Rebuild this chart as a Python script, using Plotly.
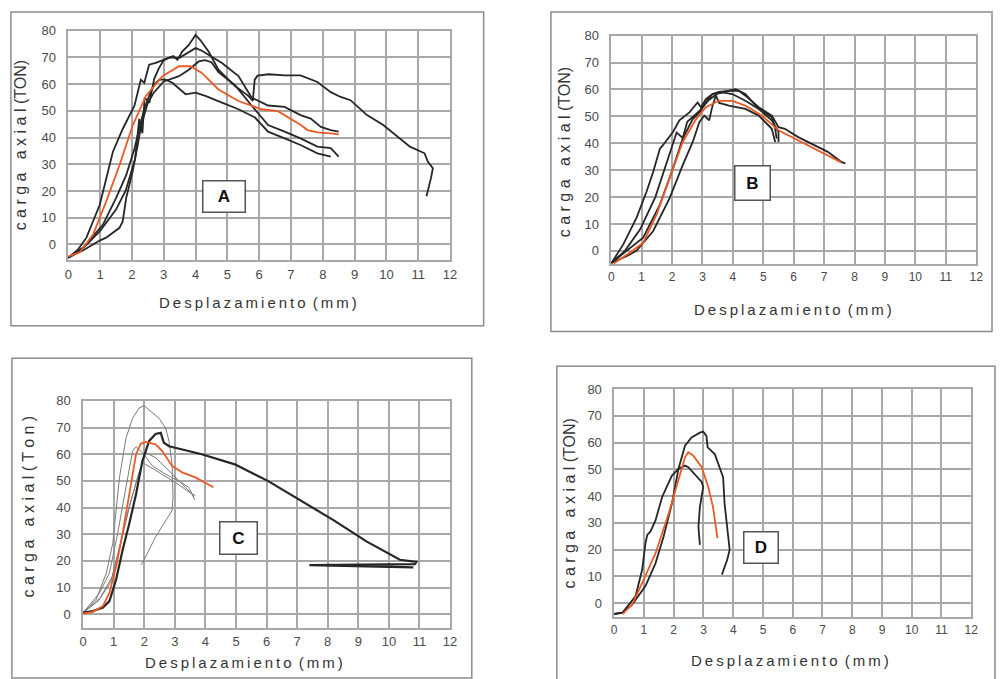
import plotly.graph_objects as go

# ---------------- data ----------------
# Panel A
a1_x = [0, 0.3, 0.57, 0.99, 1.4, 1.71, 2.08, 2.28, 2.39, 2.54, 2.75, 2.96, 3.17, 3.3, 3.43, 3.58, 3.79, 4.0, 4.15, 4.41, 4.72, 5.24, 5.66, 5.8, 5.86, 5.95, 6.3, 6.8, 7.3, 7.6, 7.83, 8.25, 8.56, 8.87, 9.39, 9.9, 10.4, 10.74, 11.2, 11.3, 11.46, 11.4, 11.26]
a1_y = [-5, -2, 2.5, 14.8, 34.6, 43.2, 51.9, 61.7, 60.5, 67.3, 68, 69, 69.7, 70.5, 69.1, 72.2, 74.7, 78.4, 76.5, 72.2, 65.4, 59.3, 55.6, 53.7, 61.7, 63.2, 63.7, 63.3, 63.3, 62, 60.8, 57, 55.2, 54, 48.4, 44.7, 39.7, 36.6, 34.1, 31, 28.5, 24.8, 18]
a2_x = [0, 0.5, 1.0, 1.5, 1.8, 2.1, 2.23, 2.33, 2.4, 2.55, 2.7, 2.85, 3.0, 3.2, 3.48, 3.7, 4.0, 4.2, 4.41, 4.83, 5.35, 5.76, 6.28, 6.8, 7.3, 7.62, 7.94, 8.25, 8.5]
a2_y = [-5, -1, 5, 13, 20, 32, 47, 41.6, 55, 53, 62, 66, 69, 70, 69.8, 71.5, 73.5, 72.5, 71, 67.9, 63, 55, 52, 51.5, 48.4, 47.1, 44, 42.8, 42.2]
a3_x = [0, 0.5, 1.0, 1.19, 1.61, 1.71, 1.82, 2.02, 2.18, 2.3, 2.5, 2.7, 3.0, 3.48, 3.79, 4.1, 4.3, 4.5, 4.72, 5.24, 5.76, 6.28, 6.8, 7.3, 7.83, 8.25, 8.5]
a3_y = [-5, -2, 1.5, 2.5, 6.2, 8.6, 17.3, 27.2, 37, 45, 53, 57, 61, 63, 65.4, 68.5, 69, 68.2, 64.5, 59.6, 52, 44.7, 42.2, 39.7, 36.6, 36, 32.9]
a4_x = [0, 0.47, 1.09, 1.5, 1.82, 2.08, 2.28, 2.39, 2.54, 2.7, 2.86, 3.06, 3.27, 3.69, 4.0, 4.31, 4.83, 5.35, 5.87, 6.28, 6.8, 7.3, 7.83, 8.25]
a4_y = [-5, -1.2, 7.4, 17.3, 25.9, 35.8, 45.7, 50.6, 55.6, 59.9, 61.7, 61.7, 60.5, 56.2, 56.8, 55.6, 53.1, 50.6, 47.5, 42.2, 39.7, 37.2, 34.1, 32.9]
a_avg_x = [0, 0.16, 0.36, 0.78, 1.19, 1.61, 2.02, 2.44, 2.96, 3.48, 3.84, 4.2, 4.72, 5.35, 6.07, 6.59, 7.0, 7.31, 7.52, 7.83, 8.25, 8.5]
a_avg_y = [-4.5, -3.7, -3, 3.7, 16, 29.6, 44.4, 55.6, 63, 66.7, 66.7, 64.2, 58, 53.7, 50.6, 49.9, 47.1, 44.7, 42.8, 41.9, 41.6, 41.2]

# Panel B
b1_x = [0.02, 0.4, 0.83, 1.16, 1.38, 1.6, 1.7, 2.03, 2.24, 2.57, 2.84, 2.95, 3.11, 3.33, 3.54, 3.87, 4.2, 4.41, 4.85, 5.28, 5.5, 5.71, 6.15, 6.58, 7.12, 7.56, 7.7]
b1_y = [-4.3, 2.5, 12.3, 22, 29.4, 38, 39.3, 44.2, 48.5, 51.5, 55.2, 53.4, 56.4, 58.3, 59.1, 59.5, 59.5, 57.7, 53.4, 50.3, 46, 45.4, 42.3, 39.9, 36.8, 33.1, 32.5]
b2_x = [0, 0.45, 0.95, 1.45, 1.8, 2.03, 2.15, 2.35, 2.5, 2.7, 2.9, 3.2, 3.5, 3.98, 4.09, 4.41, 4.85, 5.28, 5.39, 5.44]
b2_y = [-4.5, 0, 8, 20, 32, 40, 44, 42, 48, 50, 52, 56, 58.5, 59.9, 60.1, 58.3, 52.8, 49.7, 45.4, 41.7]
b3_x = [0, 0.5, 0.83, 1.38, 1.92, 2.35, 2.68, 2.9, 3.06, 3.22, 3.33, 3.44, 3.55, 3.87, 4.41, 4.85, 5.28, 5.39]
b3_y = [-4.5, -2, 0, 7.4, 19.6, 31.9, 40.5, 47.9, 50.3, 48.5, 54, 57.7, 55, 54, 52.8, 50.3, 45.4, 40.5]
b4_x = [0, 0.51, 1.05, 1.6, 2.03, 2.35, 2.68, 2.9, 3.11, 3.33, 3.65, 3.98, 4.41, 4.85, 5.28, 5.5, 5.5]
b4_y = [-4.5, 0, 4.9, 17.2, 30.7, 41.7, 49, 51.5, 55.2, 58.3, 58.9, 58.3, 55.8, 52.8, 48.5, 44.2, 40.5]
b_avg_x = [0.08, 0.62, 1.05, 1.49, 1.92, 2.35, 2.79, 3.11, 3.54, 3.98, 4.41, 4.95, 5.5, 6.04, 6.58, 7.12, 7.56]
b_avg_y = [-4.7, -0.6, 3, 13.5, 27, 40.5, 49, 53.4, 55.8, 55.8, 54, 50.3, 44.8, 41.7, 38.7, 35.6, 32.9]

# Panel C
c1_x = [0, 0.32, 0.65, 0.86, 1.08, 1.29, 1.51, 1.73, 1.94, 2.16, 2.37, 2.54, 2.64, 2.81, 3.88, 4.96, 6.04, 7.12, 8.2, 9.28, 10.36, 10.9, 10.85, 7.4, 10.8]
c1_y = [0.6, 1.2, 2.5, 4.9, 13, 24, 34, 45, 57.5, 65, 67.6, 68, 64.3, 63, 60, 56.2, 50, 42.6, 35.2, 27.2, 20.4, 19.6, 18.8, 18.4, 17.6]
c2_x = [0, 0.43, 0.76, 0.97, 1.19, 1.4, 1.62, 1.83, 1.99, 2.16, 2.48, 2.7, 2.81, 2.91, 2.94, 2.91, 2.37, 1.94, 1.89]
c2_y = [0.6, 5.6, 15.5, 26.6, 51.3, 66, 73.5, 77.3, 78.2, 76.6, 73.5, 69.8, 64.9, 56.2, 43.9, 38.9, 29, 19.2, 18.5]
c3_x = [0, 0.54, 0.86, 1.13, 1.4, 1.62, 1.73, 1.94, 2.27, 2.7, 3.13, 3.45, 3.62]
c3_y = [0.6, 8, 15.5, 30.3, 47.6, 61.2, 62.8, 60.6, 55.6, 52.5, 50, 47.6, 43.9]
c4_x = [0, 0.5, 0.9, 1.2, 1.5, 1.8, 2.05, 2.37, 2.81, 3.24, 3.56, 3.67]
c4_y = [0.6, 5, 12, 25, 40, 52, 60.6, 58.7, 53.8, 48.8, 45.1, 44.5]
c5_x = [0, 0.55, 0.95, 1.25, 1.55, 1.8, 1.94, 2.48, 3.02, 3.56, 3.65]
c5_y = [0.6, 6, 14, 28, 42, 52, 56.9, 53.2, 49.4, 45.1, 42.9]
c_avg_x = [0, 0.32, 0.65, 0.86, 1.08, 1.29, 1.51, 1.73, 1.89, 2.05, 2.37, 2.59, 2.91, 3.24, 3.67, 3.99, 4.26]
c_avg_y = [0.2, 0.9, 3.1, 8, 17.9, 30.3, 45, 60, 64, 64.6, 63.7, 61.2, 55.6, 53.2, 51.3, 49.4, 47.6]

# Panel D
d1_x = [-0.06, 0.28, 0.61, 1.05, 1.39, 1.66, 1.94, 2.16, 2.38, 2.6, 2.88, 2.99, 3.1, 3.14, 3.38, 3.66, 3.71, 3.88, 3.8, 3.62]
d1_y = [-4.1, -3.5, -0.4, 6.4, 15, 24.9, 37.2, 50.2, 58.8, 61.9, 63.7, 64.1, 62.5, 58.2, 55.7, 47.1, 37.2, 20, 16.3, 10.7]
d2_x = [-0.06, 0.28, 0.72, 0.94, 1.05, 1.11, 1.22, 1.39, 1.61, 1.94, 2.16, 2.38, 2.49, 2.71, 2.94, 2.99, 2.88, 2.83, 2.88]
d2_y = [-4.1, -3.5, 2.7, 12.6, 22.4, 25.5, 26.8, 31, 39.7, 47.7, 50.2, 51.4, 50.8, 48.3, 45.3, 43.4, 36, 28.6, 21.8]
d_avg_x = [0.28, 0.61, 0.94, 1.39, 1.83, 2.16, 2.38, 2.49, 2.66, 2.94, 3.16, 3.32, 3.43, 3.47]
d_avg_y = [-4.1, -0.4, 7.6, 18.7, 33.5, 45.9, 54.5, 56.4, 55.1, 50.8, 43.4, 36, 27.4, 24.3]

x_ticks = list(range(0, 13))
y_ticks = list(range(0, 81, 10))

# ---------------- figure ----------------
BLACK = "#262626"
ORANGE = "#ec5a24"
GRAY = "#7a7a7a"
GRID = "#a8a8a8"

fig = go.Figure()

def add(x, y, ax, color=BLACK, width=1.8):
    fig.add_trace(go.Scatter(x=x, y=y, mode="lines", xaxis="x" + ax, yaxis="y" + ax,
                             line=dict(color=color, width=width), showlegend=False,
                             hoverinfo="skip"))

# A
for xs, ys in [(a1_x, a1_y), (a2_x, a2_y), (a3_x, a3_y), (a4_x, a4_y)]:
    add(xs, ys, "")
add(a_avg_x, a_avg_y, "", ORANGE)
# B
for xs, ys in [(b1_x, b1_y), (b2_x, b2_y), (b3_x, b3_y), (b4_x, b4_y)]:
    add(xs, ys, "2")
add(b_avg_x, b_avg_y, "2", ORANGE)
# C
for xs, ys in [(c2_x, c2_y), (c3_x, c3_y), (c4_x, c4_y), (c5_x, c5_y)]:
    add(xs, ys, "3", GRAY, 1.0)
add(c1_x, c1_y, "3", BLACK, 2.2)
add(c_avg_x, c_avg_y, "3", ORANGE)
# D
for xs, ys in [(d1_x, d1_y), (d2_x, d2_y)]:
    add(xs, ys, "4")
add(d_avg_x, d_avg_y, "4", ORANGE)

def W(px):
    return px / 1000.0

def H(py):
    return 1 - py / 679.0

TICKFONT = "Arial, Liberation Sans"

def xaxis(dom, anchor, fs):
    return dict(domain=dom, anchor=anchor, range=[0, 12], tickvals=x_ticks,
                showgrid=True, gridcolor=GRID, gridwidth=1.5, zeroline=False,
                showline=True, linecolor=GRID, linewidth=1.5, mirror=True,
                ticks="", tickfont=dict(family=TICKFONT, size=fs, color="#4a4a4a"),
                ticklabelstandoff=1)

def yaxis(dom, anchor, lo):
    return dict(domain=dom, anchor=anchor, range=[lo, 80], tickvals=y_ticks,
                showgrid=True, gridcolor=GRID, gridwidth=1.5, zeroline=False,
                showline=True, linecolor=GRID, linewidth=1.5, mirror=True,
                ticks="", tickfont=dict(family=TICKFONT, size=13, color="#4a4a4a"),
                ticklabelstandoff=8)

fig.update_layout(
    width=1000, height=679,
    margin=dict(l=0, r=0, t=0, b=0),
    paper_bgcolor="white", plot_bgcolor="white",
    xaxis=xaxis([W(65), W(451)], "y", 13),
    yaxis=yaxis([H(256), H(24)], "x", -6),
    xaxis2=xaxis([W(614), W(983)], "y2", 12),
    yaxis2=yaxis([H(260), H(29)], "x2", -5),
    xaxis3=xaxis([W(80), W(451)], "y3", 13),
    yaxis3=yaxis([H(627), H(398)], "x3", -5),
    xaxis4=xaxis([W(617), W(978)], "y4", 12),
    yaxis4=yaxis([H(616), H(386)], "x4", -5),
)

# frames around each chart
frames = [(7, 5, 485, 322), (553, 5, 999, 328), (8, 355, 473, 678), (559, 363, 1002, 682)]
for x0, y0, x1, y1 in frames:
    fig.add_shape(type="rect", xref="paper", yref="paper", x0=W(x0), x1=W(x1), y0=H(y1), y1=H(y0),
                  line=dict(color="#8c8c8c", width=1.5), fillcolor="rgba(0,0,0,0)", layer="below")

xt = "D\u2009e\u2009s\u2009p\u2009l\u2009a\u2009z\u2009a\u2009m\u2009i\u2009e\u2009n\u2009t\u2009o\u2009 (\u2009m\u2009m\u2009)"
yt_ton = "c a r g a   a x i a l (TON)"
yt_ton_c = "c a r g a   a x i a l ( T o n )"
title_font = dict(family="Arial, Liberation Sans", size=15, color="#333")
ytitle_font = dict(family="Arial, Liberation Sans", size=16, color="#333")

titles = [
    (257, 299, xt, 0), (17, 140, yt_ton, -90),
    (798, 306, xt, 0), (567, 147, yt_ton, -90),
    (243, 662, xt, 0), (25, 505, yt_ton_c, -90),
    (795, 660, xt, 0), (572, 502, yt_ton, -90),
]
for px, py, txt, ang in titles:
    fig.add_annotation(x=W(px), y=H(py), xref="paper", yref="paper", text=txt, textangle=ang,
                       showarrow=False, font=(ytitle_font if ang else title_font),
                       xanchor="center", yanchor="middle")

# letter boxes
boxes = [("A", "x", "y", 4.88, 17.9, 41, 30), ("B", "x2", "y2", 4.65, 25.2, 34, 33),
         ("C", "x3", "y3", 5.07, 28.4, 36, 31), ("D", "x4", "y4", 4.94, 20.8, 33, 30)]
for lab, xr, yr, bx, by, bw, bh in boxes:
    fig.add_annotation(x=bx, y=by, xref=xr, yref=yr, text="<b>" + lab + "</b>", showarrow=False,
                       font=dict(family="Arial, Liberation Sans", size=17, color="#111"),
                       bordercolor="#555", borderwidth=1.5, borderpad=0, bgcolor="white",
                       width=bw, height=bh, xanchor="center", yanchor="middle")

fig.write_html("out.html", config={"displayModeBar": False},
               post_script="document.body.style.margin='0';document.body.style.overflow='hidden';")
